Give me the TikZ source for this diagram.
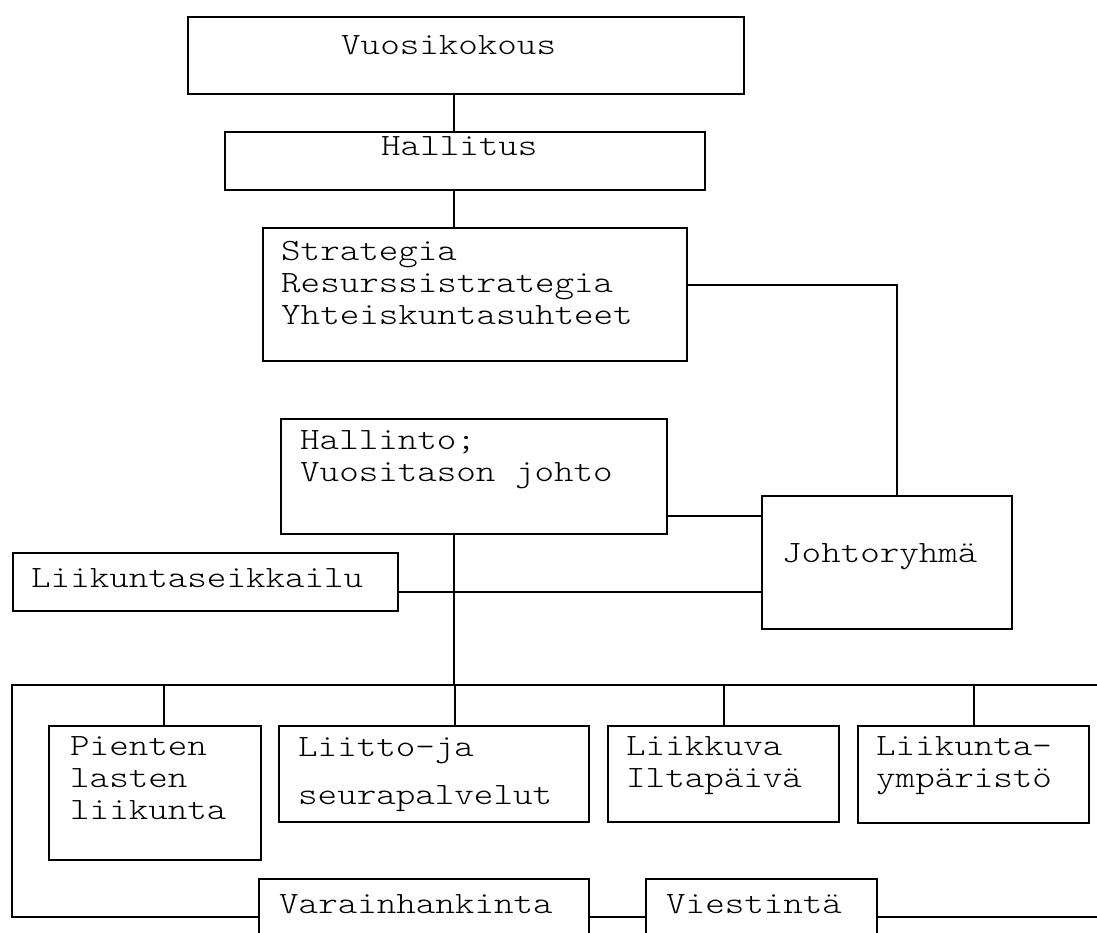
\documentclass[tikz,border=0pt]{standalone}
\usepackage{fontspec}
\newfontfamily\boxfont[FakeStretch=1.2]{lmmonolt10-regular.otf}

\begin{document}
\begin{tikzpicture}[x=1pt,y=-1pt,
  box/.style={draw, line width=2pt, inner sep=0pt, anchor=north west},
  txt/.style={anchor=north west, inner sep=0pt, align=left,
    font=\boxfont\fontsize{31}{32}\selectfont, execute at begin node=\strut},
  link/.style={line width=2pt}]
  \useasboundingbox (0,0) rectangle (1097,933);
  \clip (0,0) rectangle (1097,933);

  % Top of the organisation
  \node[box, minimum width=556, minimum height=77] (vk) at (187,16) {};
  \node[txt] (vkt) at (341,31.6) {Vuosikokous};
  \node[box, minimum width=480, minimum height=58] (hal) at (224,131) {};
  \node[txt] (halt) at (381,132.6) {Hallitus};
  \node[box, minimum width=424, minimum height=133] (strat) at (262,227) {};
  \node[txt] (stratt) at (281,240.6) {Strategia\\Resurssistrategia\\Yhteiskuntasuhteet};

  % Management
  \node[box, minimum width=386, minimum height=115] (hto) at (280,418) {};
  \node[txt] (htot) at (300,430.6) {Hallinto;\\Vuositason johto};
  \node[box, minimum width=250, minimum height=133] (johto) at (761,495) {};
  \node[txt] (johtot) at (782,539.6) {Johtoryhmä};
  \node[box, minimum width=385, minimum height=58] (lse) at (12,552) {};
  \node[txt] (lset) at (31,564.6) {Liikuntaseikkailu};

  % Units
  \node[box, minimum width=212, minimum height=134] (pll) at (48,725) {};
  \node[txt] (pllt) at (70,736.6) {Pienten\\lasten\\liikunta};
  \node[box, minimum width=310, minimum height=96] (lsp) at (278,725) {};
  \node[txt] (lspt) at (298,737.6) {Liitto-ja\\[16pt]seurapalvelut};
  \node[box, minimum width=231, minimum height=96] (li) at (607,725) {};
  \node[txt] (lit) at (626,736.6) {Liikkuva\\Iltapäivä};
  \node[box, minimum width=231, minimum height=97] (ly) at (857,725) {};
  \node[txt] (lyt) at (876,736.6) {Liikunta-\\ympäristö};
  \node[box, minimum width=330, minimum height=80] (vh) at (258,878) {};
  \node[txt] (vht) at (279,890.6) {Varainhankinta};
  \node[box, minimum width=231, minimum height=80] (vi) at (645,878) {};
  \node[txt] (vit) at (666,890.6) {Viestintä};

  % Connectors
  \coordinate (spine) at (454,0);
  \coordinate (busL) at (12,685);
  \coordinate (busR) at (1100,685);
  \coordinate (busB) at (12,917);
  \coordinate (hj) at ([yshift=19]hto.south east);
  \coordinate (lj) at ([yshift=-10]lse.east);

  \draw[link] (spine |- vk.south) -- (spine |- hal.north);
  \draw[link] (spine |- hal.south) -- (spine |- strat.north);
  \draw[link] ([yshift=9.5]strat.east) -| ([xshift=10]johto.north);
  \draw[link] (hj) -- (hj -| johto.west);
  \draw[link] (lj) -- (lj -| johto.west);
  \draw[link] (spine |- hto.south) -- (spine |- busL);

  \draw[link] (busR) -- (busL) -- (busB) -- (busB -| vh.west);
  \draw[link] (busB -| vh.east) -- (busB -| vi.west);
  \draw[link] (busB -| vi.east) -- (busB -| busR);
  \foreach \n/\s in {pll/9, lsp/21, li/0, ly/0}
    \draw[link] ([xshift=\s]\n.north) -- ([xshift=\s]\n.north |- busL);
\end{tikzpicture}
\end{document}
